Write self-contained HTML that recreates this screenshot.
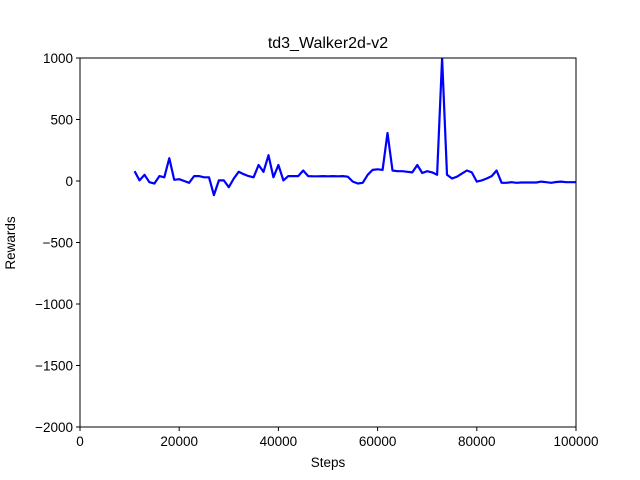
<!DOCTYPE html>
<html><head><meta charset="utf-8"><style>
body{margin:0;background:#fff;}
svg{display:block;font-family:"Liberation Sans","DejaVu Sans",sans-serif;}
</style></head><body>
<svg id="chart" width="640" height="480">
<rect width="640" height="480" fill="#fff"/>
<text x="328" y="48" font-size="16" text-anchor="middle">td3_Walker2d-v2</text>
<text x="328" y="467" font-size="13.5" text-anchor="middle">Steps</text>
<text transform="translate(15,243) rotate(-90)" font-size="13.5" text-anchor="middle">Rewards</text>
<g id="ticks"></g>
<clipPath id="clip"><rect x="80" y="58" width="496" height="369"/></clipPath>
<path id="line" fill="none" stroke="#0000ff" stroke-width="2.2" stroke-linejoin="round" clip-path="url(#clip)"/>
<rect x="80" y="58" width="496" height="369" fill="none" stroke="#000" stroke-width="1"/>
</svg>
<script>
const steps = [11000,12000,13000,14000,15000,16000,17000,18000,19000,20000,21000,22000,23000,24000,25000,26000,27000,28000,29000,30000,31000,32000,33000,34000,35000,36000,37000,38000,39000,40000,41000,42000,43000,44000,45000,46000,47000,48000,49000,50000,51000,52000,53000,54000,55000,56000,57000,58000,59000,60000,61000,62000,63000,64000,65000,66000,67000,68000,69000,70000,71000,72000,73000,74000,75000,76000,77000,78000,79000,80000,81000,82000,83000,84000,85000,86000,87000,88000,89000,90000,91000,92000,93000,94000,95000,96000,97000,98000,99000,100000];
const rewards = [80,5,50,-10,-20,40,30,185,10,15,0,-15,40,40,30,30,-115,5,5,-50,20,75,55,40,30,130,75,210,30,130,5,40,40,40,85,40,38,38,40,38,40,38,40,35,-5,-20,-15,50,90,95,90,390,85,80,80,75,70,130,65,80,70,50,1000,50,20,35,60,85,70,-5,5,20,40,85,-15,-15,-10,-15,-12,-12,-12,-12,-5,-10,-15,-8,-5,-10,-10,-10];
const xTicks = [0,20000,40000,60000,80000,100000];
const yTicks = [1000,500,0,-500,-1000,-1500,-2000];
const X0=80,X1=576,Y0=427,Y1=58;
const xs = v => X0 + (v-0)/(100000-0)*(X1-X0);
const ys = v => Y0 - (v-(-2000))/(1000-(-2000))*(Y0-Y1);
const NS="http://www.w3.org/2000/svg";
const g=document.getElementById('ticks');
xTicks.forEach(t=>{
  const l=document.createElementNS(NS,'line');
  l.setAttribute('x1',xs(t));l.setAttribute('x2',xs(t));l.setAttribute('y1',Y0);l.setAttribute('y2',Y0+4);l.setAttribute('stroke','#000');
  
  
  g.appendChild(l);
  const tx=document.createElementNS(NS,'text');
  tx.setAttribute('x',xs(t));tx.setAttribute('y',Y0+19);tx.setAttribute('font-size','13.5');tx.setAttribute('text-anchor','middle');
  tx.textContent=t;
  
  
  g.appendChild(tx);
});
yTicks.forEach(t=>{
  const l=document.createElementNS(NS,'line');
  l.setAttribute('x1',X0-4);l.setAttribute('x2',X0);l.setAttribute('y1',ys(t));l.setAttribute('y2',ys(t));l.setAttribute('stroke','#000');
  
  
  g.appendChild(l);
  const tx=document.createElementNS(NS,'text');
  tx.setAttribute('x',X0-7);tx.setAttribute('y',ys(t)+5);tx.setAttribute('font-size','13.5');tx.setAttribute('text-anchor','end');
  tx.textContent=String(t).replace('-','\u2212');
  
  
  g.appendChild(tx);
});
document.getElementById('line').setAttribute('d', steps.map((s,i)=>(i?'L':'M')+xs(s).toFixed(1)+','+ys(rewards[i]).toFixed(1)).join(' '));
</script>
</body></html>
